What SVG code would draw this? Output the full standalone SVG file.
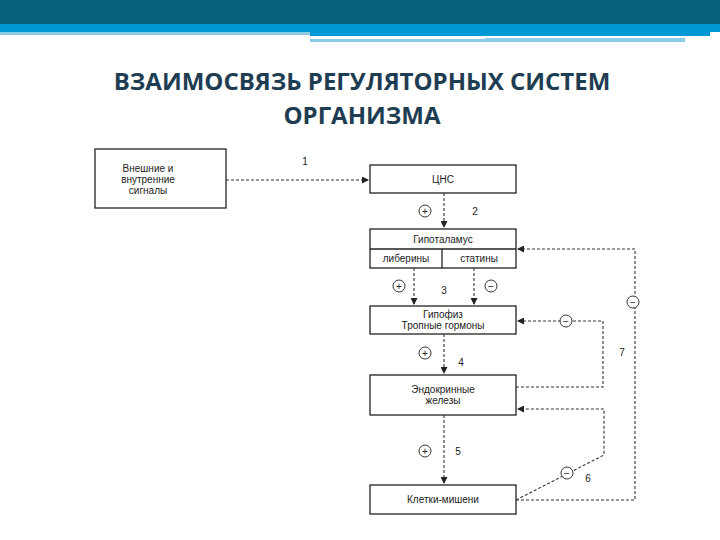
<svg xmlns="http://www.w3.org/2000/svg" width="720" height="540" viewBox="0 0 720 540">
<style>
.box{fill:#fff;stroke:#222;stroke-width:1.3}
.t{font-family:"Liberation Sans",Arial,sans-serif;font-size:10px;fill:#222;text-anchor:middle}
.c{fill:none;stroke:#333;stroke-width:1.1;stroke-dasharray:3,2}
.sg{fill:#fff;stroke:#333;stroke-width:1}
.title{font-family:"Open Sans","Liberation Sans",sans-serif;font-weight:bold;font-size:24px;fill:#1e3d52;text-anchor:middle}
</style>
<defs><marker id="a" markerWidth="7" markerHeight="7" refX="6" refY="3.5" orient="auto" markerUnits="userSpaceOnUse"><path d="M0,0L7,3.5L0,7z" fill="#222"/></marker></defs>
<rect width="720" height="540" fill="#fff"/>
<rect x="0" y="0" width="720" height="24" fill="#065f7c"/>
<rect x="0" y="24" width="720" height="8" fill="#0099d6"/>
<rect x="0" y="32" width="310" height="3" fill="#8ccbe6"/>
<rect x="310" y="32" width="400" height="4" fill="#0099d6"/>
<rect x="310" y="39" width="175" height="3" fill="#8ccbe6"/>
<rect x="485" y="38" width="200" height="4" fill="#8ccbe6"/>
<text class="title" x="362" y="90">ВЗАИМОСВЯЗЬ РЕГУЛЯТОРНЫХ СИСТЕМ</text>
<text class="title" x="362" y="124">ОРГАНИЗМА</text>
<g id="signals"><rect class="box" x="95" y="149" width="131" height="59"/><text class="t" x="148" y="172">Внешние и</text><text class="t" x="148" y="183">внутренние</text><text class="t" x="148" y="194">сигналы</text></g>
<g id="cns"><rect class="box" x="370" y="165" width="146" height="28"/><text class="t" x="443" y="183">ЦНС</text></g>
<g id="hypothalamus"><rect class="box" x="370" y="229" width="146" height="39"/><line x1="370" y1="249" x2="516" y2="249" stroke="#222" stroke-width="1.3"/><line x1="442" y1="249" x2="442" y2="268" stroke="#222" stroke-width="1.3"/><text class="t" x="443" y="243">Гипоталамус</text><text class="t" x="406" y="262">либерины</text><text class="t" x="479" y="262">статины</text></g>
<g id="hypophysis"><rect class="box" x="370" y="306" width="146" height="28"/><text class="t" x="443" y="318">Гипофиз</text><text class="t" x="443" y="329">Тропные гормоны</text></g>
<g id="endocrine"><rect class="box" x="370" y="375" width="146" height="40"/><text class="t" x="443" y="393">Эндокринные</text><text class="t" x="443" y="404">железы</text></g>
<g id="targets"><rect class="box" x="370" y="485" width="146" height="29"/><text class="t" x="443" y="503">Клетки-мишени</text></g>
<g id="connectors">
<path class="c" d="M226,180H368" marker-end="url(#a)"/>
<path class="c" d="M444,193V227" marker-end="url(#a)"/>
<path class="c" d="M414,268V304" marker-end="url(#a)"/>
<path class="c" d="M474,268V304" marker-end="url(#a)"/>
<path class="c" d="M444,334V373" marker-end="url(#a)"/>
<path class="c" d="M444,415V483" marker-end="url(#a)"/>
<path class="c" d="M516,500H635V249H518" marker-end="url(#a)"/>
<path class="c" d="M516,387H603V321H518" marker-end="url(#a)"/>
<path class="c" d="M516,500L604,455V409H518" marker-end="url(#a)"/>
<circle class="sg" cx="425" cy="211" r="6"/><text class="t" x="425" y="215">+</text>
<circle class="sg" cx="399" cy="286" r="6"/><text class="t" x="399" y="290">+</text>
<circle class="sg" cx="491" cy="286" r="6"/><text class="t" x="491" y="290">−</text>
<circle class="sg" cx="425" cy="353" r="6"/><text class="t" x="425" y="357">+</text>
<circle class="sg" cx="425" cy="451" r="6"/><text class="t" x="425" y="455">+</text>
<circle class="sg" cx="633" cy="302" r="6"/><text class="t" x="633" y="306">−</text>
<circle class="sg" cx="566" cy="321" r="6"/><text class="t" x="566" y="325">−</text>
<circle class="sg" cx="567" cy="473" r="6"/><text class="t" x="567" y="477">−</text>
<text class="t" x="305" y="165">1</text>
<text class="t" x="475" y="215">2</text>
<text class="t" x="444" y="294">3</text>
<text class="t" x="461" y="366">4</text>
<text class="t" x="458" y="455">5</text>
<text class="t" x="588" y="482">6</text>
<text class="t" x="622" y="356">7</text>
</g>
</svg>
